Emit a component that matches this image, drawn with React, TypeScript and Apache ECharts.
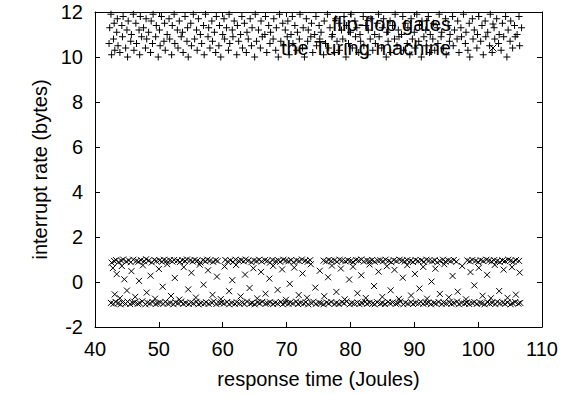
import React, { useEffect, useRef } from "react";
import * as echarts from "echarts";

// ---- data ----
const xTicks = [40, 50, 60, 70, 80, 90, 100, 110];
const yTicks = [-2, 0, 2, 4, 6, 8, 10, 12];
const seriesNames = ["flip-flop gates", "the Turing machine"];

// "flip-flop gates" (+): upper band, y ~ 10..12
const flipFlopGates: [number, number][] = [
  [42.2,10.6],[42.3,11.3],[42.5,11.9],[42.6,10.1],[42.9,10.8],[43.0,11.5],[43.1,10.3],[43.4,11.1],[43.5,11.7],[43.6,10.5],
  [43.9,10.2],[44.2,11.4],[44.3,10.9],[44.4,11.8],[44.8,10.4],[45.0,11.2],[45.1,10.0],[45.2,11.6],[45.6,10.7],[45.7,11.0],
  [46.0,11.9],[46.1,10.3],[46.4,11.5],[46.5,10.6],[46.9,11.2],[47.0,10.1],[47.1,11.8],[47.3,10.9],[47.6,11.3],[47.9,10.4],
  [48.0,11.7],[48.1,10.8],[48.4,11.1],[48.7,10.2],[48.8,11.6],[49.0,10.6],[49.1,11.9],[49.5,10.9],[49.6,11.4],[49.9,10.0],
  [50.1,11.2],[50.2,10.5],[50.4,11.8],[50.8,10.7],[50.9,11.5],[51.0,10.3],[51.3,11.0],[51.6,11.7],[51.7,10.8],[52.0,10.1],
  [52.1,11.4],[52.4,11.9],[52.5,10.6],[52.9,11.2],[53.0,10.4],[53.2,11.6],[53.5,10.9],[53.7,11.1],[53.8,10.2],[54.1,11.8],
  [54.4,10.7],[54.5,11.3],[54.6,10.0],[55.0,11.5],[55.1,10.5],[55.4,11.9],[55.6,10.8],[55.9,11.2],[56.0,10.3],[56.2,11.7],
  [56.5,11.0],[56.7,10.6],[57.0,11.4],[57.1,10.1],[57.3,11.9],[57.7,10.9],[57.8,11.3],[58.0,10.4],[58.3,11.6],[58.4,10.7],
  [58.7,11.1],[58.9,10.2],[59.0,11.8],[59.4,10.5],[59.5,11.4],[59.7,10.0],[60.0,11.0],[60.2,11.7],[60.3,10.8],[60.6,11.3],
  [60.9,10.3],[61.0,11.9],[61.1,10.6],[61.5,11.2],[61.6,10.9],[61.8,11.6],[62.2,10.1],[62.3,11.4],[62.5,10.7],[62.8,11.0],
  [63.0,11.8],[63.1,10.4],[63.4,11.5],[63.7,10.2],[63.8,11.1],[64.0,10.8],[64.3,11.7],[64.5,10.5],[64.6,11.3],[65.0,10.0],
  [65.1,11.9],[65.3,10.7],[65.6,11.2],[65.9,10.4],[66.0,11.6],[66.2,10.9],[66.6,11.0],[66.7,11.8],[66.9,10.2],[67.2,11.4],
  [67.4,10.6],[67.5,11.1],[67.9,10.8],[68.0,11.7],[68.3,10.3],[68.4,11.3],[68.7,10.0],[68.9,11.9],[69.1,10.7],[69.4,11.5],
  [69.5,10.5],[69.8,11.2],[70.1,10.9],[70.2,11.6],[70.4,10.1],[70.7,11.0],[70.9,11.8],[71.0,10.6],[71.3,11.4],[71.6,10.3],
  [71.7,11.1],[72.0,10.8],[72.1,11.9],[72.5,10.4],[72.6,11.3],[72.8,10.0],[73.1,11.7],[73.3,10.7],[73.4,11.2],[73.8,10.9],
  [73.9,11.5],[74.1,10.2],[74.4,11.0],[74.6,11.8],[74.7,10.5],[75.1,11.4],[75.2,10.8],[75.4,11.1],[75.8,10.1],[75.9,11.6],
  [76.1,10.6],[76.4,11.9],[76.6,10.4],[76.8,11.3],[77.1,10.9],[77.2,11.0],[77.5,10.2],[77.7,11.7],[77.9,10.7],[78.2,11.5],
  [78.3,10.3],[78.6,11.2],[78.8,10.8],[79.0,11.8],[79.3,10.0],[79.4,11.4],[79.7,10.6],[80.0,11.1],[80.1,11.9],[80.3,10.4],
  [80.7,11.6],[80.8,10.9],[81.0,11.3],[81.3,10.2],[81.5,11.0],[81.6,10.7],[82.0,11.8],[82.1,10.5],[82.4,11.4],[82.7,10.1],
  [82.8,11.2],[83.1,10.8],[83.2,11.7],[83.5,10.3],[83.8,11.0],[83.9,10.6],[84.2,11.5],[84.4,11.9],[84.5,10.9],[84.9,10.4],
  [85.0,11.3],[85.2,11.7],[85.6,10.0],[85.7,11.1],[85.9,10.7],[86.2,11.6],[86.3,10.2],[86.6,11.4],[86.9,10.8],[87.0,11.9],
  [87.3,10.5],[87.5,11.2],[87.6,10.9],[88.0,11.0],[88.2,11.8],[88.3,10.3],[88.6,11.5],[88.9,10.6],[89.0,11.3],[89.3,10.1],
  [89.5,11.7],[89.7,10.8],[90.0,11.1],[90.1,10.4],[90.4,11.9],[90.7,10.7],[90.8,11.4],[91.1,10.0],[91.2,11.6],[91.5,10.9],
  [91.8,11.2],[91.9,10.5],[92.2,11.8],[92.4,10.2],[92.5,11.0],[92.9,10.8],[93.0,11.5],[93.2,10.3],[93.6,11.3],[93.7,10.6],
  [93.9,11.9],[94.2,10.9],[94.3,11.1],[94.6,10.4],[94.9,11.7],[95.0,10.1],[95.3,11.4],[95.5,10.7],[95.6,11.0],[96.0,11.8],
  [96.1,10.5],[96.3,11.2],[96.7,10.8],[96.8,11.6],[97.0,10.2],[97.3,11.3],[97.4,10.9],[97.7,11.9],[98.0,10.6],[98.1,11.1],
  [98.4,10.3],[98.6,11.5],[98.7,10.0],[99.1,11.7],[99.2,10.8],[99.4,11.2],[99.8,10.4],[99.9,11.0],[100.1,11.8],[100.4,10.7],
  [100.6,11.4],[100.8,10.1],[101.1,11.6],[101.2,10.9],[101.5,11.1],[101.8,10.5],[101.9,11.9],[102.2,10.2],[102.5,11.3],[102.6,10.8],
  [102.9,11.7],[103.2,10.6],[103.3,11.0],[103.6,10.3],[103.8,11.5],[104.0,10.9],[104.3,11.8],[104.5,10.0],[104.7,11.2],[105.0,10.7],
  [105.1,11.6],[105.4,10.4],[105.7,11.4],[105.8,10.9],[106.1,11.0],[106.4,11.8],[106.5,10.5],[106.8,11.3],
];

// "the Turing machine" (x): lower band near -1
const turingLow: [number, number][] = [
  [42.5,-0.93],[42.9,-0.97],[43.2,-0.88],[43.6,-0.95],[44.0,-0.99],[44.3,-0.91],[44.8,-0.96],[45.1,-0.87],[45.5,-0.98],[45.9,-0.93],
  [46.2,-0.90],[46.7,-0.97],[47.0,-0.94],[47.4,-0.86],[47.9,-0.99],[48.2,-0.92],[48.6,-0.95],[49.0,-0.89],[49.5,-0.98],[49.8,-0.94],
  [50.2,-0.91],[50.7,-0.97],[51.0,-0.88],[51.4,-0.96],[51.8,-0.93],[52.3,-0.99],[52.6,-0.90],[53.0,-0.95],[53.5,-0.87],[53.8,-0.97],
  [54.2,-0.93],[54.7,-0.98],[55.0,-0.91],[55.4,-0.95],[55.9,-0.88],[56.2,-0.99],[56.6,-0.94],[57.1,-0.96],[57.4,-0.90],[57.8,-0.97],
  [58.3,-0.92],[58.6,-0.86],[59.0,-0.98],[59.5,-0.94],[59.8,-0.91],[60.2,-0.96],[60.7,-0.89],[61.0,-0.99],[61.4,-0.93],[61.9,-0.97],
  [62.2,-0.90],[62.6,-0.95],[63.1,-0.92],[63.4,-0.98],[63.8,-0.87],[64.3,-0.96],[64.6,-0.93],[65.0,-0.99],[65.5,-0.91],[65.8,-0.95],
  [66.2,-0.88],[66.7,-0.97],[67.0,-0.94],[67.4,-0.90],[67.9,-0.98],[68.2,-0.92],[68.6,-0.96],[69.1,-0.89],[69.4,-0.99],[69.8,-0.93],
  [70.3,-0.97],[70.6,-0.91],[71.0,-0.95],[71.5,-0.87],[71.8,-0.98],[72.2,-0.93],[72.7,-0.96],[73.0,-0.90],[73.4,-0.99],[73.9,-0.94],
  [74.2,-0.88],[74.6,-0.97],[75.1,-0.92],[75.4,-0.95],[75.8,-0.99],[76.3,-0.91],[76.6,-0.96],[77.0,-0.89],[77.5,-0.98],[77.8,-0.93],
  [78.2,-0.97],[78.7,-0.90],[79.0,-0.95],[79.4,-0.87],[79.9,-0.99],[80.2,-0.93],[80.6,-0.96],[81.1,-0.91],[81.4,-0.98],[81.8,-0.94],
  [82.3,-0.88],[82.6,-0.97],[83.0,-0.92],[83.5,-0.95],[83.8,-0.99],[84.2,-0.90],[84.7,-0.96],[85.0,-0.93],[85.4,-0.98],[85.9,-0.89],
  [86.2,-0.95],[86.6,-0.91],[87.1,-0.97],[87.4,-0.94],[87.8,-0.87],[88.3,-0.99],[88.6,-0.92],[89.0,-0.96],[89.5,-0.90],[89.8,-0.98],
  [90.2,-0.93],[90.7,-0.95],[91.0,-0.88],[91.4,-0.97],[91.9,-0.94],[92.2,-0.91],[92.6,-0.99],[93.1,-0.93],[93.4,-0.96],[93.8,-0.89],
  [94.3,-0.98],[94.6,-0.92],[95.0,-0.95],[95.5,-0.90],[95.8,-0.97],[96.2,-0.94],[96.7,-0.87],[97.0,-0.99],[97.4,-0.93],[97.9,-0.96],
  [98.2,-0.91],[98.6,-0.98],[99.1,-0.94],[99.4,-0.89],[99.8,-0.97],[100.3,-0.92],[100.6,-0.95],[101.0,-0.99],[101.5,-0.90],[101.8,-0.96],
  [102.2,-0.93],[102.7,-0.98],[103.0,-0.88],[103.4,-0.95],[103.9,-0.92],[104.2,-0.97],[104.6,-0.91],[105.1,-0.99],[105.4,-0.94],[105.8,-0.89],
  [106.3,-0.96],[106.6,-0.93],
];

// "the Turing machine" (x): upper band near +1
const turingHigh: [number, number][] = [
  [42.6,0.86],[43.0,0.93],[43.3,0.97],[43.7,0.89],[44.1,0.95],[44.4,1.00],[44.9,0.91],[45.3,0.96],[45.6,0.88],[46.0,0.99],
  [46.5,0.94],[46.8,0.90],[47.2,0.97],[47.7,0.92],[48.0,1.01],[48.4,0.95],[48.9,0.87],[49.3,0.98],[49.6,0.93],[50.1,0.96],
  [50.5,0.90],[50.8,0.99],[51.2,0.94],[51.7,0.97],[52.1,0.91],[52.4,0.98],[52.9,0.95],[53.3,0.89],[53.7,0.97],[54.1,0.93],
  [54.4,1.00],[54.9,0.96],[55.3,0.91],[55.6,0.98],[56.0,0.94],[56.5,0.87],[56.9,0.97],[57.3,0.92],[57.6,0.99],[58.0,0.95],
  [58.5,0.90],[58.9,0.97],[59.2,0.93],[60.4,0.98],[60.8,0.91],[61.2,0.96],[61.6,0.89],[62.0,0.99],[62.5,0.94],[62.9,0.97],
  [63.3,0.92],[63.6,1.00],[64.0,0.95],[64.5,0.88],[64.9,0.96],[65.3,0.93],[65.7,0.99],[66.1,0.91],[66.6,0.97],[67.0,0.94],
  [67.4,0.86],[67.8,0.98],[68.3,0.93],[68.7,0.96],[69.0,0.90],[69.5,0.99],[69.9,0.95],[70.3,0.92],[70.7,0.97],[71.1,0.88],
  [71.6,0.96],[72.0,0.93],[72.4,1.00],[72.9,0.94],[73.3,0.90],[73.7,0.97],[75.8,0.95],[76.2,0.91],[76.6,0.98],[77.0,0.94],
  [77.5,0.97],[77.9,0.90],[78.3,0.99],[78.7,0.95],[79.2,0.92],[79.6,0.97],[80.0,0.93],[80.4,0.89],[80.9,0.98],[81.3,0.95],
  [81.7,1.00],[82.1,0.91],[82.6,0.96],[83.0,0.93],[83.4,0.98],[83.8,0.90],[84.3,0.95],[84.7,0.97],[85.1,0.92],[85.5,0.99],
  [86.0,0.94],[86.4,0.88],[86.8,0.97],[87.2,0.93],[87.7,0.99],[88.1,0.95],[88.5,0.91],[88.9,0.97],[89.4,0.94],[89.8,0.89],
  [90.2,0.98],[90.6,0.93],[91.1,0.96],[91.5,0.90],[91.9,0.99],[92.3,0.95],[92.8,0.92],[93.2,0.97],[93.6,0.87],[94.0,0.94],
  [94.5,0.99],[94.9,0.91],[95.3,0.96],[95.7,0.93],[96.2,0.98],[96.6,0.90],[98.3,0.96],[98.7,0.92],[99.1,0.98],[99.6,0.94],
  [100.0,0.89],[100.4,0.97],[100.8,0.93],[101.3,0.99],[101.7,0.95],[102.1,0.91],[102.5,0.97],[103.0,0.94],[103.4,0.88],[103.8,0.96],
  [104.2,0.93],[104.7,0.99],[105.1,0.95],[105.5,0.90],[105.9,0.97],[106.4,0.94],
];

// "the Turing machine" (x): scattered points between the bands
const turingMid: [number, number][] = [
  [42.8,0.62],[43.1,-0.55],[43.4,0.35],[43.9,-0.72],[44.2,0.71],[44.6,0.12],[45.0,-0.38],[45.7,0.48],[46.3,-0.66],[46.9,0.05],
  [47.5,0.74],[48.1,-0.47],[48.7,0.28],[49.4,-0.74],[50.0,0.58],[50.6,-0.21],[51.3,0.79],[51.9,-0.62],[52.5,0.18],[53.2,-0.78],
  [53.9,0.66],[54.6,-0.33],[55.1,0.41],[55.8,-0.69],[56.4,0.77],[57.0,-0.12],[57.7,0.52],[58.4,-0.57],[59.1,0.24],[59.7,-0.76],
  [60.3,0.69],[61.0,-0.41],[61.5,0.08],[62.1,0.76],[62.8,-0.64],[63.5,0.33],[64.2,-0.27],[64.8,0.61],[65.4,-0.73],[66.0,0.45],
  [66.7,-0.52],[67.3,0.15],[67.9,0.72],[68.6,-0.35],[69.3,0.56],[69.9,-0.79],[70.5,-0.08],[71.2,0.64],[71.9,-0.58],[72.5,0.38],
  [73.2,-0.70],[73.8,0.79],[74.5,-0.25],[75.2,0.50],[75.9,-0.63],[76.5,0.21],[77.1,0.73],[77.8,-0.44],[78.5,0.60],[79.1,-0.77],
  [79.8,0.11],[80.4,0.68],[81.1,-0.50],[81.7,0.30],[82.4,-0.71],[83.0,0.78],[83.7,-0.18],[84.4,0.46],[85.0,-0.66],[85.7,0.70],
  [86.3,-0.37],[86.9,0.54],[87.6,-0.75],[88.2,0.19],[88.9,0.75],[89.5,-0.60],[90.1,0.36],[90.8,-0.29],[91.4,0.67],[92.0,-0.74],
  [92.7,0.02],[93.3,0.59],[94.0,-0.53],[94.7,0.79],[95.4,-0.68],[96.0,0.27],[96.8,-0.43],[97.5,0.71],[98.1,-0.77],[98.8,0.44],
  [99.4,-0.15],[100.1,0.63],[100.7,-0.61],[101.4,0.32],[102.0,-0.72],[102.6,0.76],[103.3,-0.40],[104.0,0.55],[104.6,-0.70],[105.3,0.66],
  [105.9,-0.56],[106.5,0.42],
];

const PLUS = "path://M0,3.5L7,3.5M3.5,0L3.5,7";
const CROSS = "path://M0,0L7,7M7,0L0,7";
const FONT = "'Liberation Sans', Arial, Helvetica, sans-serif";

export default function App() {
  const ref = useRef<HTMLDivElement>(null);

  useEffect(() => {
    if (!ref.current) return;
    const chart = echarts.init(ref.current, undefined, { renderer: "svg" });

    const axisLine = { show: true, onZero: false, lineStyle: { color: "#000", width: 1 } };
    const axisTick = { show: true, inside: true, length: 5, lineStyle: { color: "#000", width: 1 } };
    const markStyle = { color: "transparent", borderColor: "#000", borderWidth: 1, opacity: 1 };

    const xBase = {
      type: "value" as const,
      min: xTicks[0],
      max: xTicks[xTicks.length - 1],
      interval: xTicks[1] - xTicks[0],
      axisLine,
      axisTick,
      splitLine: { show: false },
    };
    const yBase = {
      type: "value" as const,
      min: yTicks[0],
      max: yTicks[yTicks.length - 1],
      interval: yTicks[1] - yTicks[0],
      axisLine,
      axisTick,
      splitLine: { show: false },
    };

    chart.setOption({
      animation: false,
      backgroundColor: "#fff",
      textStyle: { fontFamily: FONT },
      grid: { left: 95, right: 31, top: 12, bottom: 68, containLabel: false },
      legend: {
        orient: "vertical",
        right: 76,
        top: 14,
        align: "right",
        padding: 0,
        itemWidth: 74,
        itemHeight: 7,
        itemGap: 4,
        selectedMode: false,
        textStyle: { fontSize: 20, color: "#000", fontFamily: FONT },
        itemStyle: { color: "transparent", borderColor: "#000", borderWidth: 1 },
        data: [
          { name: seriesNames[0], icon: PLUS },
          { name: seriesNames[1], icon: CROSS },
        ],
      },
      xAxis: [
        {
          ...xBase,
          position: "bottom",
          name: "response time (Joules)",
          nameLocation: "middle",
          nameGap: 42,
          nameTextStyle: { fontSize: 20, color: "#000", fontFamily: FONT },
          axisLabel: { fontSize: 20, color: "#000", margin: 12, fontFamily: FONT },
        },
        { ...xBase, position: "top", axisLabel: { show: false } },
      ],
      yAxis: [
        {
          ...yBase,
          position: "left",
          name: "interrupt rate (bytes)",
          nameLocation: "middle",
          nameGap: 44,
          nameTextStyle: { fontSize: 20, color: "#000", fontFamily: FONT },
          axisLabel: { fontSize: 20, color: "#000", margin: 12, fontFamily: FONT },
        },
        { ...yBase, position: "right", axisLabel: { show: false } },
      ],
      series: [
        {
          type: "scatter",
          name: seriesNames[0],
          data: flipFlopGates,
          symbol: PLUS,
          symbolSize: 7,
          itemStyle: markStyle,
          silent: true,
        },
        {
          type: "scatter",
          name: seriesNames[1],
          data: [...turingLow, ...turingHigh, ...turingMid],
          symbol: CROSS,
          symbolSize: 6,
          itemStyle: markStyle,
          silent: true,
        },
      ],
    });

    return () => chart.dispose();
  }, []);

  return (
    <div
      ref={ref}
      style={{ position: "fixed", left: 0, top: 0, width: 573, height: 395, background: "#fff" }}
    />
  );
}
